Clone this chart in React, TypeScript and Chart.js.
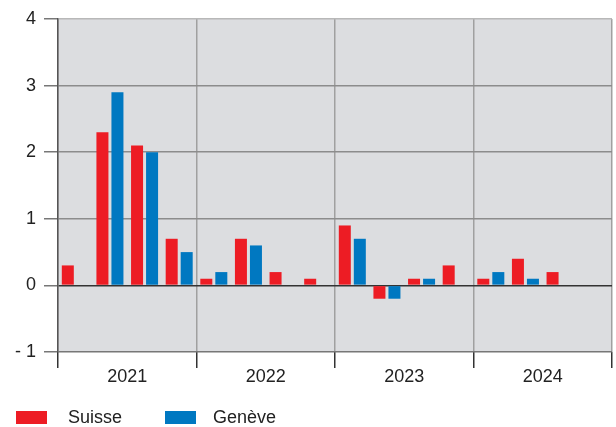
import React, { useEffect, useRef } from "react";
import { Chart, registerables } from "chart.js";

Chart.register(...registerables);

const quarters = [
  "2021 T1", "2021 T2", "2021 T3", "2021 T4",
  "2022 T1", "2022 T2", "2022 T3", "2022 T4",
  "2023 T1", "2023 T2", "2023 T3", "2023 T4",
  "2024 T1", "2024 T2", "2024 T3", "2024 T4",
];
const years = ["2021", "2022", "2023", "2024"];
const suisse: (number | null)[] = [0.3, 2.3, 2.1, 0.7, 0.1, 0.7, 0.2, 0.1, 0.9, -0.2, 0.1, 0.3, 0.1, 0.4, 0.2, null];
const geneve: (number | null)[] = [null, 2.9, 2.0, 0.5, 0.2, 0.6, null, null, 0.7, -0.2, 0.1, null, 0.2, 0.1, null, null];
const seriesNames = ["Suisse", "Genève"];
const seriesColors = ["#ed1c24", "#0078c1"];

const FONT = "'Liberation Sans', Arial, sans-serif";

export default function App() {
  const ref = useRef<HTMLCanvasElement | null>(null);
  useEffect(() => {
    document.body.style.margin = "0";
    const bgPlugin = {
      id: "bg",
      beforeDraw(chart: any) {
        const { ctx, chartArea } = chart;
        ctx.save();
        ctx.fillStyle = "#dcdde0";
        ctx.fillRect(chartArea.left, chartArea.top, chartArea.right - chartArea.left, chartArea.bottom - chartArea.top);
        ctx.restore();
      },
    };
    const chart = new Chart(ref.current!, {
      type: "bar",
      data: {
        labels: quarters,
        datasets: [
          { label: seriesNames[0], data: suisse, backgroundColor: seriesColors[0], xAxisID: "x" },
          { label: seriesNames[1], data: geneve, backgroundColor: seriesColors[1], xAxisID: "x" },
        ],
      },
      options: {
        animation: false,
        responsive: false,
        devicePixelRatio: 1,
        layout: { padding: { top: 19, right: 4, bottom: 35, left: 0 } },
        datasets: { bar: { categoryPercentage: 0.867, barPercentage: 0.8 } } as any,
        plugins: { legend: { display: false }, tooltip: { enabled: false } },
        scales: {
          x: { display: false, offset: true },
          x2: {
            type: "category",
            labels: years,
            position: "bottom",
            offset: true,
            grid: {
              offset: true,
              color: "#a0a0a0",
              lineWidth: 1.5,
              tickColor: "#333",
              tickLength: 16,
              drawOnChartArea: true,
            },
            border: { display: false },
            ticks: { color: "#222", font: { family: FONT, size: 18 }, padding: -2 },
            afterFit(scale: any) { scale.height = 40; },
          } as any,
          y: {
            min: -1,
            max: 4,
            ticks: {
              stepSize: 1,
              color: "#222",
              font: { family: FONT, size: 18 },
              padding: 8,
              callback: (v: any) => (Number(v) < 0 ? "- " + Math.abs(Number(v)) : String(v)),
            },
            grid: {
              color: (c: any) => {
                const v = c.tick?.value;
                if (v === 0) return "#333";
                if (v === 4) return "#b8b8b8";
                if (v === -1) return "#777";
                return "#8c8c8c";
              },
              lineWidth: 1.5,
              tickColor: "#777",
              tickLength: 14,
            },
            border: { display: true, color: "#555", width: 1.5 },
            afterFit(scale: any) { scale.width = 58; },
          } as any,
        },
      },
      plugins: [bgPlugin],
    });
    return () => chart.destroy();
  }, []);

  const legendItem = (i: number, left: number, textLeft: number) => (
    <div key={i}>
      <div style={{ position: "absolute", left, top: 411, width: 31, height: 13, background: seriesColors[i] }} />
      <div style={{ position: "absolute", left: textLeft, top: 405, fontFamily: FONT, fontSize: 18, color: "#222", lineHeight: "24px" }}>
        {seriesNames[i]}
      </div>
    </div>
  );

  return (
    <div style={{ position: "relative", width: 616, height: 427 }}>
      <canvas ref={ref} width={616} height={427} style={{ position: "absolute", left: 0, top: 0 }} />
      {legendItem(0, 16, 68)}
      {legendItem(1, 165, 213)}
    </div>
  );
}
